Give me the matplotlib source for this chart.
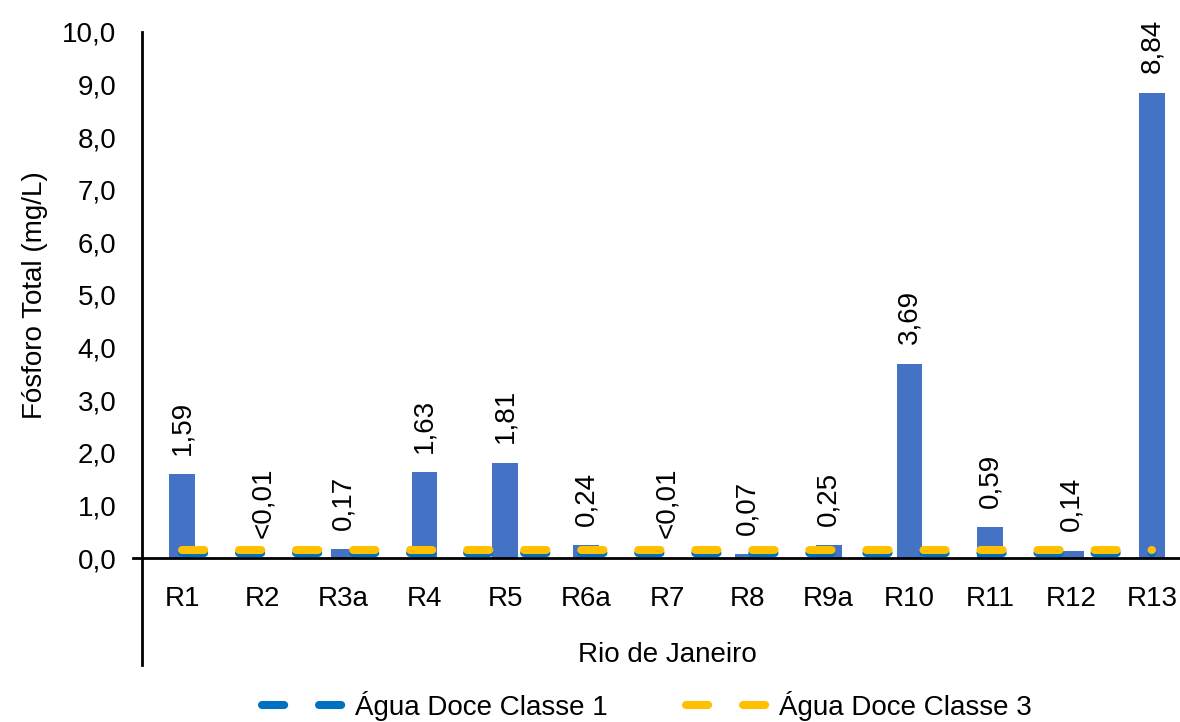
import numpy as np
import matplotlib
matplotlib.use("Agg")
import matplotlib.pyplot as plt
from matplotlib.lines import Line2D

plt.rcParams['font.family'] = ['Liberation Sans', 'DejaVu Sans']

# data
pontos = ['R1', 'R2', 'R3a', 'R4', 'R5', 'R6a', 'R7', 'R8', 'R9a', 'R10', 'R11', 'R12', 'R13']
fosforo = [1.59, 0.005, 0.17, 1.63, 1.81, 0.24, 0.005, 0.07, 0.25, 3.69, 0.59, 0.14, 8.84]
rotulos = ['1,59', '<0,01', '0,17', '1,63', '1,81', '0,24', '<0,01', '0,07', '0,25', '3,69', '0,59', '0,14', '8,84']
classe1 = [0.10] * len(pontos)
classe3 = [0.15] * len(pontos)

FS = 20

fig = plt.figure(figsize=(11.8, 7.22), dpi=100)
ax = fig.add_axes([0.12, 0.227, 0.8905, 0.729])

x = np.arange(len(pontos))
ax.bar(x, fosforo, width=0.32, color='#4472C4', zorder=2)

# limit lines, dashed with round caps
lw = 5.8
l1, = ax.plot(x, classe1, color='#0070C0', lw=lw, zorder=3,
              dash_capstyle='round', label='Água Doce Classe 1')
l1.set_dashes((2.75, 4.33))
l3, = ax.plot(x, classe3, color='#FFC000', lw=lw, zorder=4,
              dash_capstyle='round', label='Água Doce Classe 3')
l3.set_dashes((2.75, 4.33))

for xi, v, txt in zip(x, fosforo, rotulos):
    ax.annotate(txt, (xi, v), xytext=(0, 14), textcoords='offset points',
                rotation=90, ha='center', va='bottom', fontsize=FS)

ax.set_xlim(-0.5, len(pontos) - 0.5)
ax.set_ylim(0, 10)
yt = np.arange(0, 10.1, 1.0)
ax.set_yticks(yt)
ax.set_yticklabels([f'{t:.1f}'.replace('.', ',') for t in yt], fontsize=FS)
ax.set_xticks(x)
ax.set_xticklabels(pontos, fontsize=FS)
ax.tick_params(axis='both', length=0)
ax.tick_params(axis='x', pad=20)
ax.tick_params(axis='y', pad=18)

for s in ['top', 'right', 'left']:
    ax.spines[s].set_visible(False)
ax.spines['bottom'].set_linewidth(2)
ax.spines['bottom'].set_color('black')

# left axis line runs down past the category labels
ax.add_line(Line2D([0, 0], [1.0, -0.203], transform=ax.transAxes, color='black',
                   lw=2, clip_on=False))
ax.add_line(Line2D([-0.008, 0], [0, 0], transform=ax.transAxes, color='black',
                   lw=2, clip_on=False))

ax.set_xlabel('Rio de Janeiro', fontsize=FS, labelpad=22)
ax.set_ylabel('Fósforo Total (mg/L)', fontsize=FS, labelpad=10)

fig.legend(handles=[l1, l3], loc='lower center', bbox_to_anchor=(0.548, -0.033),
           ncol=2, frameon=False, fontsize=FS, handlelength=2.95,
           handletextpad=0.4, columnspacing=2.8)

fig.savefig('out.png', dpi=100)
